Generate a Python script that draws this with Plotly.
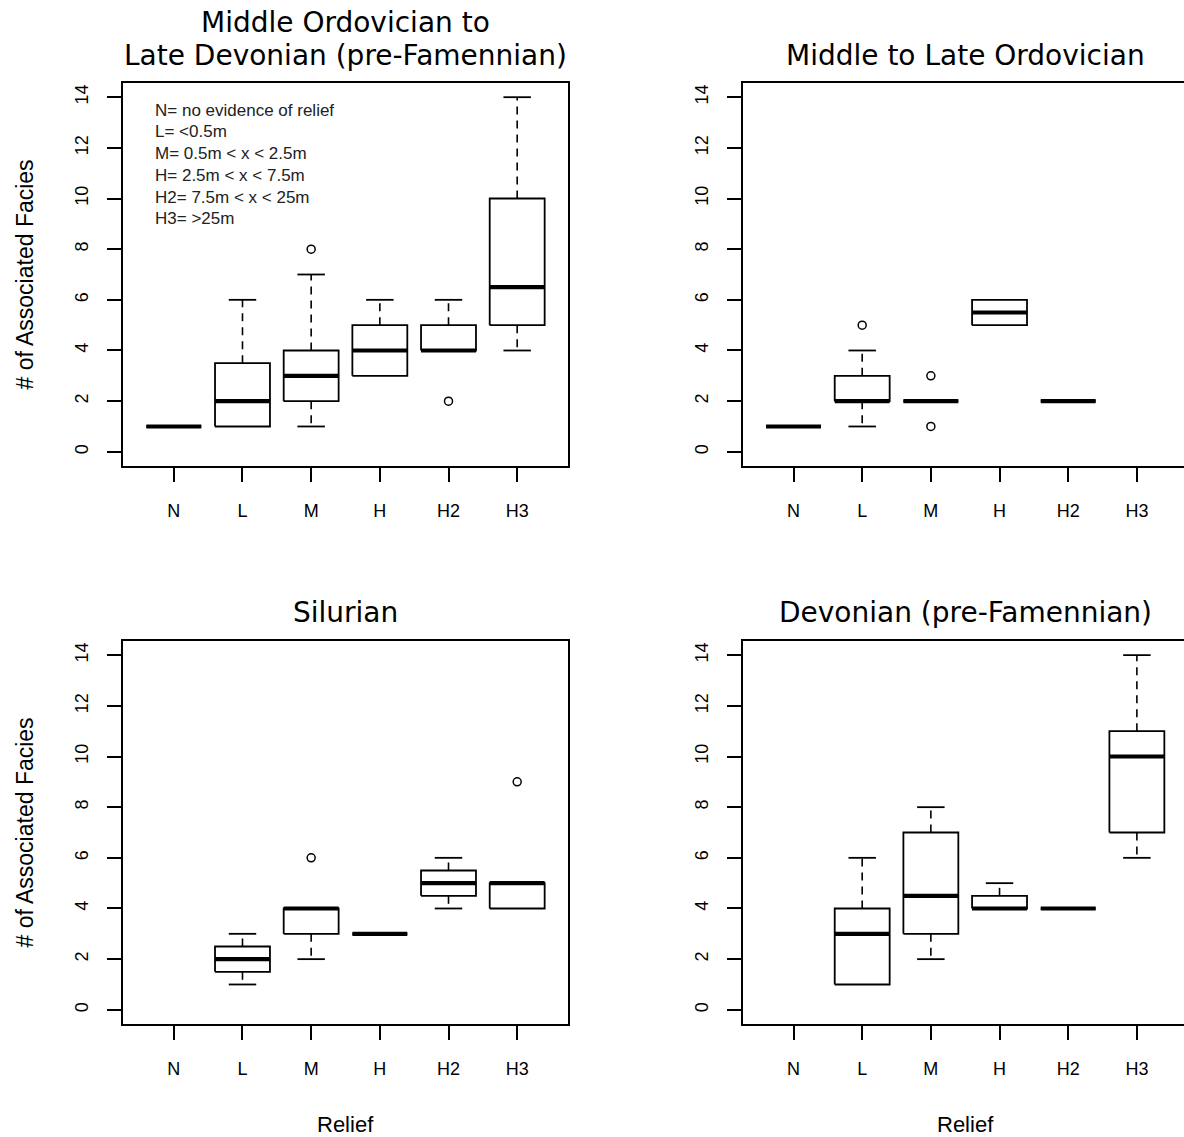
import plotly.graph_objects as go

W, H = 1184, 1137

CATEGORIES = ["N", "L", "M", "H", "H2", "H3"]

TITLES = [
    ["Middle Ordovician to", "Late Devonian (pre-Famennian)"],
    ["Middle to Late Ordovician"],
    ["Silurian"],
    ["Devonian (pre-Famennian)"],
]

# Panel 1: Middle Ordovician to Late Devonian
A_lo = [1, 1, 1, 3, 4, 4]
A_q1 = [1, 1, 2, 3, 4, 5]
A_med = [1, 2, 3, 4, 4, 6.5]
A_q3 = [1, 3.5, 4, 5, 5, 10]
A_hi = [1, 6, 7, 6, 6, 14]
A_out_cat = ["M", "H2"]
A_out_val = [8, 2]

# Panel 2: Middle to Late Ordovician
B_lo = [1, 1, 2, 5, 2, None]
B_q1 = [1, 2, 2, 5, 2, None]
B_med = [1, 2, 2, 5.5, 2, None]
B_q3 = [1, 3, 2, 6, 2, None]
B_hi = [1, 4, 2, 6, 2, None]
B_out_cat = ["L", "M", "M"]
B_out_val = [5, 3, 1]

# Panel 3: Silurian
C_lo = [None, 1, 2, 3, 4, 4]
C_q1 = [None, 1.5, 3, 3, 4.5, 4]
C_med = [None, 2, 4, 3, 5, 5]
C_q3 = [None, 2.5, 4, 3, 5.5, 5]
C_hi = [None, 3, 4, 3, 6, 5]
C_out_cat = ["M", "H3"]
C_out_val = [6, 9]

# Panel 4: Devonian (pre-Famennian)
D_lo = [None, 1, 2, 4, 4, 6]
D_q1 = [None, 1, 3, 4, 4, 7]
D_med = [None, 3, 4.5, 4, 4, 10]
D_q3 = [None, 4, 7, 4.5, 4, 11]
D_hi = [None, 6, 8, 5, 4, 14]
D_out_cat = []
D_out_val = []

Y_TICKS = [0, 2, 4, 6, 8, 10, 12, 14]
Y_TITLE = "# of Associated Facies"
X_TITLE = "Relief"
LEGEND_LINES = [
    "N= no evidence of relief",
    "L= <0.5m",
    "M= 0.5m < x < 2.5m",
    "H= 2.5m < x < 7.5m",
    "H2= 7.5m < x < 25m",
    "H3= >25m",
]

panels = [
    (A_lo, A_q1, A_med, A_q3, A_hi, A_out_cat, A_out_val),
    (B_lo, B_q1, B_med, B_q3, B_hi, B_out_cat, B_out_val),
    (C_lo, C_q1, C_med, C_q3, C_hi, C_out_cat, C_out_val),
    (D_lo, D_q1, D_med, D_q3, D_hi, D_out_cat, D_out_val),
]

# pixel boxes (left, right, top, bottom) for each plot region
boxes = [
    (123, 568, 83, 466),
    (742.7, 1184, 83, 466),
    (123, 568, 641, 1024),
    (742.7, 1184, 641, 1024),
]
PX_PER_UNIT = 445 / 6.48
TITLE_Y = [[22, 55], [55], [612], [612]]

def fx(px):
    return px / W

def fy(py):
    return 1 - py / H

fig = go.Figure()
BW = 0.4
CW = 0.2
FONT = "Liberation Sans, Arial, sans-serif"

for k, (lo, q1, med, q3, hi, oc, ov) in enumerate(panels):
    xa = "x" if k == 0 else f"x{k+1}"
    ya = "y" if k == 0 else f"y{k+1}"
    bx, by = [], []
    mx, my = [], []
    wx, wy = [], []
    cx, cy = [], []
    for i, cat in enumerate(CATEGORIES):
        if med[i] is None:
            continue
        p = i + 1
        bx += [p - BW, p + BW, p + BW, p - BW, p - BW, None]
        by += [q1[i], q1[i], q3[i], q3[i], q1[i], None]
        mx += [p - BW, p + BW, None]
        my += [med[i], med[i], None]
        if hi[i] > q3[i]:
            wx += [p, p, None]
            wy += [q3[i], hi[i], None]
            cx += [p - CW, p + CW, None]
            cy += [hi[i], hi[i], None]
        if lo[i] < q1[i]:
            wx += [p, p, None]
            wy += [q1[i], lo[i], None]
            cx += [p - CW, p + CW, None]
            cy += [lo[i], lo[i], None]
    common = dict(xaxis=xa, yaxis=ya, showlegend=False, hoverinfo="skip")
    fig.add_trace(go.Scatter(x=wx, y=wy, mode="lines",
                             line=dict(color="black", width=1.6, dash="8px,6px"), **common))
    fig.add_trace(go.Scatter(x=cx, y=cy, mode="lines",
                             line=dict(color="black", width=1.8), **common))
    fig.add_trace(go.Scatter(x=bx, y=by, mode="lines",
                             line=dict(color="black", width=1.8), **common))
    fig.add_trace(go.Scatter(x=mx, y=my, mode="lines",
                             line=dict(color="black", width=4.2), **common))
    if oc:
        fig.add_trace(go.Scatter(x=[CATEGORIES.index(c) + 1 for c in oc], y=ov,
                                 mode="markers",
                                 marker=dict(symbol="circle-open", size=8, color="black",
                                             line=dict(width=1.5)), **common))

    l, r, t, b = boxes[k]
    right_edge_val = 0.26 + (r - l) / PX_PER_UNIT
    full_box = r < W
    xkey = "xaxis" if k == 0 else f"xaxis{k+1}"
    ykey = "yaxis" if k == 0 else f"yaxis{k+1}"
    fig.update_layout(**{
        xkey: dict(domain=[fx(l), fx(r)], anchor=ya, range=[0.26, right_edge_val],
                   tickvals=list(range(1, 7)), ticktext=CATEGORIES,
                   ticks="outside", ticklen=14, tickwidth=1.6, tickcolor="black",
                   showline=True, linecolor="black", linewidth=2, mirror=True,
                   showgrid=False, zeroline=False,
                   tickfont=dict(family=FONT, size=18, color="black"),
                   ticklabelstandoff=13),
        ykey: dict(domain=[fy(b), fy(t)], anchor=xa, range=[-0.56, 14.56],
                   tickvals=Y_TICKS, ticks="outside", ticklen=14, tickwidth=1.6,
                   tickcolor="black", tickangle=-90,
                   showline=True, linecolor="black", linewidth=2, mirror=full_box,
                   showgrid=False, zeroline=False,
                   tickfont=dict(family=FONT, size=18, color="black"),
                   ticklabelstandoff=12),
    })

    # titles
    cx_px = l + 3.24 * PX_PER_UNIT
    for line, ty in zip(TITLES[k], TITLE_Y[k]):
        fig.add_annotation(text=line, xref="paper", yref="paper",
                           x=fx(cx_px), y=fy(ty), showarrow=False,
                           xanchor="center", yanchor="middle",
                           font=dict(family="DejaVu Sans", size=28, color="black"))
    # y-axis titles (left panels)
    if k in (0, 2):
        fig.add_annotation(text=Y_TITLE, xref="paper", yref="paper",
                           x=fx(24), y=fy((t + b) / 2), showarrow=False, textangle=-90,
                           xanchor="center", yanchor="middle",
                           font=dict(family=FONT, size=23, color="black"))
    if k in (2, 3):
        fig.add_annotation(text=X_TITLE, xref="paper", yref="paper",
                           x=fx(cx_px), y=fy(1124), showarrow=False,
                           xanchor="center", yanchor="middle",
                           font=dict(family=FONT, size=22, color="black"))

for j, line in enumerate(LEGEND_LINES):
    fig.add_annotation(text=line, xref="paper", yref="paper",
                       x=fx(153), y=fy(110 + j * 21.8), showarrow=False,
                       xanchor="left", yanchor="middle",
                       font=dict(family=FONT, size=17, color="#222"))

fig.update_layout(width=W, height=H, margin=dict(l=0, r=0, t=0, b=0),
                  plot_bgcolor="white", paper_bgcolor="white")

fig.write_html("out.html")
